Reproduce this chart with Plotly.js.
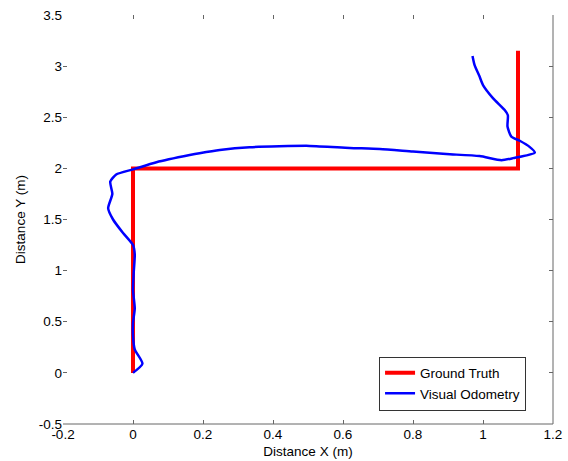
<!DOCTYPE html>
<html>
<head>
<meta charset="utf-8">
<script src="https://cdn.plot.ly/plotly-3.0.1.min.js"></script>
<style>html,body{margin:0;padding:0;background:#fff;}#chart{width:568px;height:461px;}</style>
</head>
<body>
<div id="chart"></div>
<script>
const truthX = [0, 0, 1.1, 1.1];
const truthY = [0, 2, 2, 3.15];
const odoX = [0, 0.027, 0.005, 0, 0, 0.005, 0, 0.002, 0.005, 0, -0.029, -0.057, -0.071, -0.059, -0.065, -0.048, 0, 0.067, 0.162, 0.19, 0.248, 0.333, 0.505, 0.619, 0.705, 0.8, 0.895, 0.99, 1.053, 1.086, 1.148, 1.133, 1.105, 1.081, 1.07, 1.071, 1.062, 1.029, 1.0, 0.99, 0.976, 0.97];
const odoY = [0, 0.09, 0.23, 0.36, 0.49, 0.63, 0.81, 0.98, 1.16, 1.25, 1.37, 1.50, 1.61, 1.75, 1.87, 1.94, 1.99, 2.06, 2.13, 2.148, 2.18, 2.207, 2.22, 2.20, 2.19, 2.164, 2.14, 2.12, 2.08, 2.10, 2.155, 2.21, 2.27, 2.31, 2.41, 2.52, 2.57, 2.685, 2.815, 2.9, 3.01, 3.10];
const xTicks = [-0.2, 0, 0.2, 0.4, 0.6, 0.8, 1, 1.2];
const xTickText = ['-0.2', '0', '0.2', '0.4', '0.6', '0.8', '1', '1.2'];
const yTicks = [-0.5, 0, 0.5, 1, 1.5, 2, 2.5, 3, 3.5];
const yTickText = ['-0.5', '0', '0.5', '1', '1.5', '2', '2.5', '3', '3.5'];

const font = {family: 'Liberation Sans, Arial, sans-serif', size: 13.5, color: '#000'};

const traces = [
  {x: truthX, y: truthY, mode: 'lines', name: 'Ground Truth', line: {color: '#ff0000', width: 4}},
  {x: odoX, y: odoY, mode: 'lines', name: 'Visual Odometry', line: {color: '#0000ff', width: 2.5, shape: 'spline', smoothing: 0.6}}
];

const layout = {
  width: 568, height: 461,
  margin: {l: 63, r: 15, t: 15, b: 37},
  paper_bgcolor: '#fff', plot_bgcolor: '#fff',
  font: font,
  showlegend: true,
  legend: {x: 0.645, y: 0.165, xanchor: 'left', yanchor: 'top', bgcolor: '#fff', bordercolor: '#333', borderwidth: 1, font: {family: font.family, size: 13.5, color: '#000'}, tracegroupgap: 0},
  xaxis: {
    range: [-0.2, 1.2], tickvals: xTicks, ticktext: xTickText,
    ticks: 'inside', ticklen: 4, tickcolor: '#666', mirror: 'ticks',
    showline: false, showgrid: false, zeroline: false,
    title: {text: 'Distance X (m)', font: font, standoff: 6},
    tickfont: font
  },
  yaxis: {
    range: [-0.5, 3.5], tickvals: yTicks, ticktext: yTickText,
    ticks: 'inside', ticklen: 4, tickcolor: '#666', mirror: 'ticks',
    showline: false, showgrid: false, zeroline: false,
    title: {text: 'Distance Y (m)', font: font, standoff: 10},
    tickfont: font
  },
  shapes: [
    {type: 'line', xref: 'paper', yref: 'paper', x0: 0, x1: 1, y0: 0, y1: 0, line: {color: '#666', width: 1}},
    {type: 'line', xref: 'paper', yref: 'paper', x0: 1, x1: 1, y0: 0, y1: 1, line: {color: '#666', width: 1}}
  ]
};

Plotly.newPlot('chart', traces, layout, {displayModeBar: false, staticPlot: true});
</script>
</body>
</html>
